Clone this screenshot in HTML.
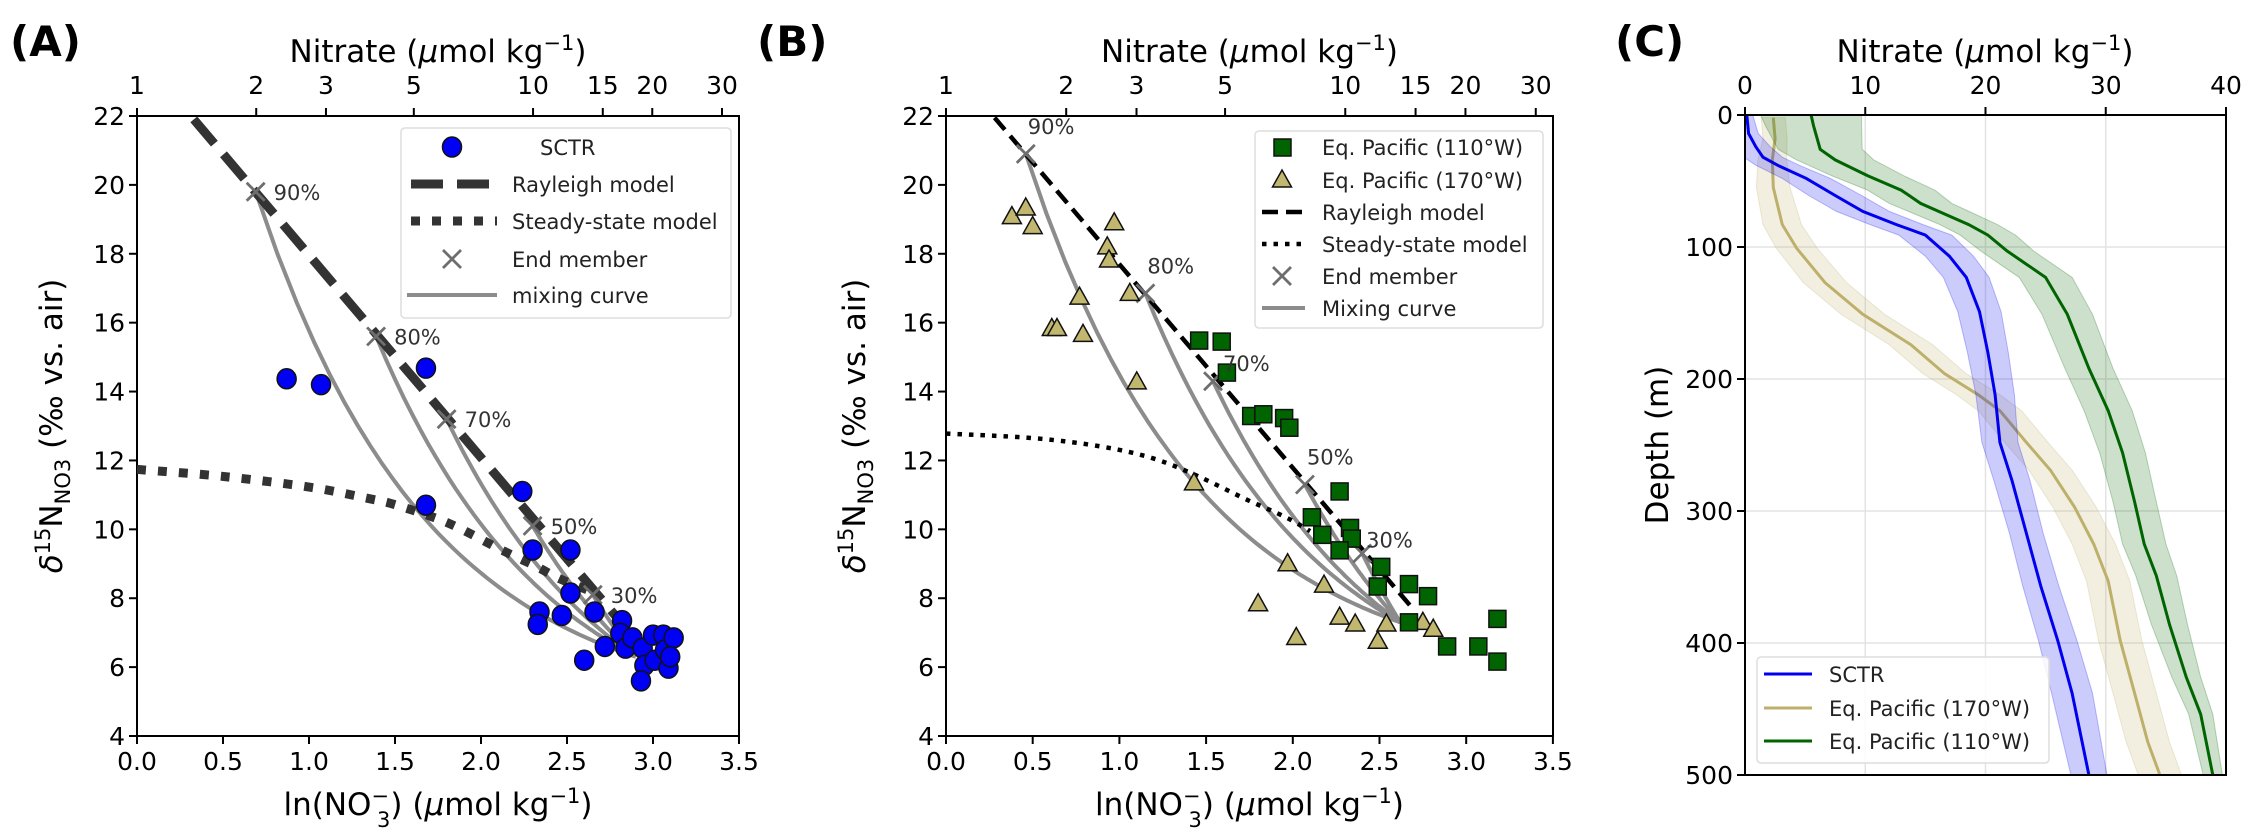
<!DOCTYPE html>
<html><head><meta charset="utf-8">
<style>
html,body{margin:0;padding:0;background:#fff;}
svg{display:block;font-family:"DejaVu Sans","Liberation Sans",sans-serif;}
</style></head>
<body>
<svg id="fig" width="2252" height="836" viewBox="0 0 2252 836" xmlns="http://www.w3.org/2000/svg"></svg>
<script>
// ---------- DATA ----------
const sctrLn = [0.87,1.07,1.68,1.68,2.24,2.30,2.52,2.52,2.34,2.33,2.47,2.66,2.60,2.72,2.82,2.81,2.84,2.88,2.94,2.95,2.93,3.00,3.06,3.01,3.07,3.12,3.09,3.10];
const sctrD15 = [14.37,14.2,14.68,10.7,11.1,9.4,9.4,8.15,7.6,7.24,7.5,7.6,6.2,6.6,7.35,6.98,6.55,6.85,6.55,6.05,5.6,6.93,6.93,6.2,6.5,6.85,5.97,6.3];
const endLabels = ["90%","80%","70%","50%","30%"];
const endALn = [0.69,1.39,1.80,2.30,2.65];
const endAD = [19.8,15.6,13.2,10.1,8.1];
const deepA = [2.9,6.3];
const rayleighALn = [0.33,2.78];
const rayleighAD = [21.9,7.5];
const steadyALn = [0,0.51,1.01,1.34,1.51,1.81,2.12,2.31,2.46,2.64];
const steadyAD = [11.74,11.53,11.22,10.9,10.7,10.18,9.4,8.95,8.56,8.2];
const p110Ln = [1.46,1.59,1.62,1.76,1.83,1.95,1.98,2.27,2.11,2.17,2.33,2.34,2.27,2.51,2.49,2.67,2.78,2.67,2.89,3.07,3.18,3.18];
const p110D = [15.48,15.45,14.55,13.29,13.34,13.23,12.95,11.1,10.35,9.84,10.04,9.73,9.39,8.91,8.34,8.41,8.06,7.3,6.6,6.6,7.4,6.16];
const p170Ln = [0.38,0.46,0.50,0.61,0.64,0.77,0.79,0.97,0.93,0.94,1.06,1.10,1.43,1.80,1.97,2.02,2.18,2.27,2.36,2.49,2.54,2.75,2.81];
const p170D = [19.08,19.33,18.79,15.83,15.83,16.74,15.66,18.9,18.2,17.82,16.85,14.28,11.35,7.84,9.0,6.86,8.38,7.45,7.25,6.75,7.25,7.3,7.1];
const endBLn = [0.46,1.15,1.54,2.07,2.40];
const endBD = [20.9,16.85,14.3,11.3,9.3];
const deepB = [2.62,7.3];
const rayleighBLn = [0.28,2.7];
const rayleighBD = [21.95,7.65];
const steadyBLn = [0,0.5,0.9,1.2,1.45,1.74,1.96,2.1];
const steadyBD = [12.78,12.65,12.4,12.05,11.55,10.85,10.35,9.95];
const sctrN = [0.15,0.3,0.9,1.5,2.7,5.1,7.5,9.8,12.6,15,17,18.4,19.5,20.2,20.8,21.2,22.2,23.4,24.6,26,27.2,28.6];
const sctrZ = [0,14,24,32,38,48,61,73,83,91,107,123,149,180,212,248,277,317,357,398,438,500];
const sctrHW = [0.5,0.8,1.2,1.6,1.8,2.0,2.2,2.2,2.2,2.2,2.0,1.9,1.8,1.7,1.6,1.5,1.5,1.4,1.5,1.6,1.7,1.5];
const w170N = [2.35,2.5,2.27,2.35,3.1,4.3,6.65,9.8,13.8,16.6,19.4,21.2,23.4,25.4,27.4,29,30.2,31.2,32.4,33.5,34.5];
const w170Z = [2,18,34,55,83,101,127,151,174,196,212,224,248,269,297,325,353,398,438,475,500];
const w170HW = [1.0,1.0,1.2,1.4,1.6,1.7,1.8,1.8,1.8,1.8,1.8,1.8,1.8,1.8,1.8,1.8,1.8,1.8,1.8,1.8,1.8];
const w110N = [5.5,5.7,6.25,7.5,10.2,13,14.6,16.6,18.6,20.2,21.8,23.4,25,26.8,28.6,30.2,31.4,32.4,33.2,34.2,35.3,36.7,37.9,38.9];
const w110Z = [0,8,26,34,46,57,67,75,83,91,103,113,123,151,192,224,256,293,325,349,386,426,454,500];
const w110HW = [4.2,4.0,3.5,3.2,3.0,2.8,2.6,2.5,2.4,2.3,2.2,2.2,2.2,2.1,2.0,2.0,1.9,1.8,1.8,1.7,1.5,1.2,1.0,0.8];
const xTicks = [0,0.5,1,1.5,2,2.5,3,3.5];
const yTicks = [4,6,8,10,12,14,16,18,20,22];
const topTicks = [1,2,3,5,10,15,20,30];
const cXTicks = [0,10,20,30,40];
const cYTicks = [0,100,200,300,400,500];

// ---------- HELPERS ----------
const svg = document.getElementById('fig');
const NS = 'http://www.w3.org/2000/svg';
function mk(tag, attrs, parent){
  const e = document.createElementNS(NS, tag);
  for (const k in attrs) e.setAttribute(k, attrs[k]);
  (parent||svg).appendChild(e);
  return e;
}
function txt(str, x, y, size, anchor, parent, extra){
  const t = mk('text', Object.assign({x:x, y:y, 'font-size':size, 'text-anchor':anchor||'middle', fill:'#000'}, extra||{}), parent);
  t.textContent = str;
  return t;
}
const TOP = 116, BOT = 736;
function mkAxes(x0, unit){ return { X: v => x0 + v*unit, Y: v => BOT - (v-4)*(BOT-TOP)/18 }; }
const A = mkAxes(137, 172.0);
const B = mkAxes(946, 173.4);

function scatterPanel(ax, x0, x1, name, yTitleX, labelX, panelLabel){
  const g = mk('g', {});
  
  
  const pl = txt(panelLabel, labelX, 56, 42, 'start', g, {'font-weight':'bold'});
  
  
  const fr = mk('rect', {x:x0, y:TOP, width:x1-x0, height:BOT-TOP, fill:'none', stroke:'#000', 'stroke-width':2}, g);
  
  
  xTicks.forEach(v => {
    const x = ax.X(v);
    mk('line', {x1:x, x2:x, y1:BOT, y2:BOT+8, stroke:'#000', 'stroke-width':2}, g);
    const t = txt(v.toFixed(1), x, 770, 25, 'middle', g);
    
    
  });
  yTicks.forEach(v => {
    const y = ax.Y(v);
    mk('line', {x1:x0-8, x2:x0, y1:y, y2:y, stroke:'#000', 'stroke-width':2}, g);
    const t = txt(String(v), x0-12, y+9, 25, 'end', g);
    
    
  });
  topTicks.forEach(v => {
    const x = ax.X(Math.log(v));
    if (x > x1+2) return;
    mk('line', {x1:x, x2:x, y1:TOP-8, y2:TOP, stroke:'#000', 'stroke-width':2}, g);
    const t = txt(String(v), x, 94, 25, 'middle', g);
    
    
  });
  const cx = (x0+x1)/2;
  const tt = mk('text', {x:cx, y:62, 'font-size':31, 'text-anchor':'middle'}, g);
  tt.innerHTML = 'Nitrate (<tspan font-style="italic">μ</tspan>mol kg<tspan dy="-12" font-size="21">−1</tspan><tspan dy="12">)</tspan>';
  
  
  const xt = mk('text', {x:cx, y:815, 'font-size':31, 'text-anchor':'middle'}, g);
  xt.innerHTML = 'ln(NO<tspan dy="-12" font-size="21">−</tspan><tspan dx="-12" dy="24" font-size="21">3</tspan><tspan dy="-12">) (</tspan><tspan font-style="italic">μ</tspan>mol kg<tspan dy="-12" font-size="21">−1</tspan><tspan dy="12">)</tspan>';
  
  
  const yt = mk('text', {x:0, y:0, 'font-size':31, 'text-anchor':'middle', transform:`translate(${yTitleX},426) rotate(-90)`}, g);
  yt.innerHTML = '<tspan font-style="italic">δ</tspan><tspan dy="-12" font-size="21">15</tspan><tspan dy="12">N</tspan><tspan dy="8" font-size="21">NO3</tspan><tspan dy="-8"> (‰ vs. air)</tspan>';
  
  
  return g;
}
function smoothPath(xs, ys, ax){
  const P = xs.map((v,i)=>[ax.X(v), ax.Y(ys[i])]);
  let d = 'M'+P[0][0].toFixed(1)+','+P[0][1].toFixed(1);
  for (let i=0;i<P.length-1;i++){
    const p0 = P[Math.max(0,i-1)], p1 = P[i], p2 = P[i+1], p3 = P[Math.min(P.length-1,i+2)];
    const c1 = [p1[0]+(p2[0]-p0[0])/6, p1[1]+(p2[1]-p0[1])/6];
    const c2 = [p2[0]-(p3[0]-p1[0])/6, p2[1]-(p3[1]-p1[1])/6];
    d += 'C'+c1[0].toFixed(1)+','+c1[1].toFixed(1)+' '+c2[0].toFixed(1)+','+c2[1].toFixed(1)+' '+p2[0].toFixed(1)+','+p2[1].toFixed(1);
  }
  return d;
}
function mixPath(eLn, eD, deep, ax){
  const N1 = Math.exp(eLn), N2 = Math.exp(deep[0]);
  let d = '';
  for (let k=0;k<=60;k++){
    const f = 1 - k/60;
    const N = f*N1 + (1-f)*N2;
    const dd = (f*N1*eD + (1-f)*N2*deep[1])/N;
    d += (k?'L':'M') + ax.X(Math.log(N)).toFixed(1) + ',' + ax.Y(dd).toFixed(1);
  }
  return d;
}
function cross(x, y, s, parent){
  return mk('path', {d:`M${x-s},${y-s}L${x+s},${y+s}M${x-s},${y+s}L${x+s},${y-s}`, stroke:'#6e6e6e', 'stroke-width':2.8, fill:'none'}, parent);
}

// ---------- PANEL A ----------
const gA = scatterPanel(A, 137, 739, 'panel-a', 62, 10, '(A)');
const clipA = mk('clipPath', {id:'clipA'}); mk('rect', {x:137, y:TOP, width:602, height:BOT-TOP}, clipA);
const gAin = mk('g', {'clip-path':'url(#clipA)'}, gA);
endALn.forEach((v,i)=>{
  const p = mk('path', {d:mixPath(v, endAD[i], deepA, A), stroke:'#8c8c8c', 'stroke-width':4, fill:'none'}, gAin);
  
  
});
const rayA = mk('path', {d:smoothPath(rayleighALn, rayleighAD, A), stroke:'#333', 'stroke-width':9, 'stroke-dasharray':'32 14', fill:'none'}, gAin);


const stA = mk('path', {d:smoothPath(steadyALn, steadyAD, A), stroke:'#333', 'stroke-width':9, 'stroke-dasharray':'9 12', fill:'none'}, gAin);


endALn.forEach((v,i)=>{
  const c = cross(A.X(v), A.Y(endAD[i]), 9, gAin);
  
  
  const t = txt(endLabels[i], A.X(v)+18, A.Y(endAD[i])+8, 21, 'start', gA, {fill:'#333'});
  
  
});
sctrLn.forEach((v,i)=>{
  const c = mk('ellipse', {cx:A.X(v), cy:A.Y(sctrD15[i]), rx:9.5, ry:10, fill:'#0000f5', stroke:'#111', 'stroke-width':1.5}, gAin);
  
  
});
const lgA = mk('g', {}, gA);


mk('rect', {x:401, y:128, width:330, height:190, rx:4, fill:'#fff', 'fill-opacity':0.85, stroke:'#ddd', 'stroke-width':1.5}, lgA);
const lgAy = [147,184,221,259,295];
const lgAtext = ['SCTR','Rayleigh model','Steady-state model','End member','mixing curve'];
mk('ellipse', {cx:452, cy:lgAy[0], rx:9.5, ry:10, fill:'#0000f5', stroke:'#111', 'stroke-width':1.5}, lgA);
mk('line', {x1:411, x2:497, y1:lgAy[1], y2:lgAy[1], stroke:'#333', 'stroke-width':9, 'stroke-dasharray':'32 14'}, lgA);
mk('line', {x1:411, x2:497, y1:lgAy[2], y2:lgAy[2], stroke:'#333', 'stroke-width':9, 'stroke-dasharray':'9 12'}, lgA);
cross(452, lgAy[3], 9, lgA);
mk('line', {x1:407, x2:497, y1:lgAy[4], y2:lgAy[4], stroke:'#8c8c8c', 'stroke-width':4}, lgA);
lgAtext.forEach((s,i)=>{
  const t = txt(s, i===0?540:512, lgAy[i]+8, 21, 'start', lgA, {fill:'#222'});
  
  
});

// ---------- PANEL B ----------
const gB = scatterPanel(B, 946, 1553, 'panel-b', 865, 757, '(B)');
const clipB = mk('clipPath', {id:'clipB'}); mk('rect', {x:946, y:TOP, width:607, height:BOT-TOP}, clipB);
const gBin = mk('g', {'clip-path':'url(#clipB)'}, gB);
endBLn.forEach((v,i)=>{
  const p = mk('path', {d:mixPath(v, endBD[i], deepB, B), stroke:'#8c8c8c', 'stroke-width':4, fill:'none'}, gBin);
  
  
});
const rayB = mk('path', {d:smoothPath(rayleighBLn, rayleighBD, B), stroke:'#000', 'stroke-width':4.5, 'stroke-dasharray':'16 8', fill:'none'}, gBin);


const stB = mk('path', {d:smoothPath(steadyBLn, steadyBD, B), stroke:'#000', 'stroke-width':4.5, 'stroke-dasharray':'4.5 7', fill:'none'}, gBin);


const lblOffB = [[0,-20],[0,-20],[8,-10],[0,-20],[2,-6]];
endBLn.forEach((v,i)=>{
  const c = cross(B.X(v), B.Y(endBD[i]), 9, gBin);
  
  
  const t = txt(endLabels[i], B.X(v)+2+lblOffB[i][0], B.Y(endBD[i])+lblOffB[i][1], 21, 'start', gB, {fill:'#333'});
  
  
});
p170Ln.forEach((v,i)=>{
  const x = B.X(v), y = B.Y(p170D[i]);
  const p = mk('path', {d:`M${x},${y-10}L${x+9.5},${y+7}L${x-9.5},${y+7}Z`, fill:'#c2b76e', stroke:'#111', 'stroke-width':1.5}, gBin);
  
  
});
p110Ln.forEach((v,i)=>{
  const x = B.X(v), y = B.Y(p110D[i]);
  const r = mk('rect', {x:x-8.5, y:y-8.5, width:17, height:17, fill:'#006400', stroke:'#111', 'stroke-width':1.5}, gBin);
  
  
});
const lgB = mk('g', {}, gB);


mk('rect', {x:1255, y:131, width:288, height:197, rx:4, fill:'#fff', 'fill-opacity':0.85, stroke:'#ddd', 'stroke-width':1.5}, lgB);
const lgBy = [147,180,212,244,276,308];
const lgBtext = ['Eq. Pacific (110°W)','Eq. Pacific (170°W)','Rayleigh model','Steady-state model','End member','Mixing curve'];
mk('rect', {x:1274, y:lgBy[0]-8, width:17, height:17, fill:'#006400', stroke:'#111', 'stroke-width':1.5}, lgB);
mk('path', {d:`M1282,${lgBy[1]-10}L1291.5,${lgBy[1]+7}L1272.5,${lgBy[1]+7}Z`, fill:'#c2b76e', stroke:'#111', 'stroke-width':1.5}, lgB);
mk('line', {x1:1262, x2:1305, y1:lgBy[2], y2:lgBy[2], stroke:'#000', 'stroke-width':4.5, 'stroke-dasharray':'16 8'}, lgB);
mk('line', {x1:1262, x2:1305, y1:lgBy[3], y2:lgBy[3], stroke:'#000', 'stroke-width':4.5, 'stroke-dasharray':'4.5 7'}, lgB);
cross(1282, lgBy[4], 9, lgB);
mk('line', {x1:1262, x2:1305, y1:lgBy[5], y2:lgBy[5], stroke:'#8c8c8c', 'stroke-width':4}, lgB);
lgBtext.forEach((s,i)=>{
  const t = txt(s, 1322, lgBy[i]+8, 21, 'start', lgB, {fill:'#222'});
  
  
});

// ---------- PANEL C ----------
const CX0 = 1745, CX1 = 2226, CY0 = 115, CY1 = 775;
const CX = v => CX0 + v*(CX1-CX0)/40;
const CY = v => CY0 + v*(CY1-CY0)/500;
const gC = mk('g', {});


const plC = txt('(C)', 1615, 56, 42, 'start', gC, {'font-weight':'bold'});


cXTicks.forEach(v => { if(v>0 && v<40) mk('line', {x1:CX(v), x2:CX(v), y1:CY0, y2:CY1, stroke:'#e3e3e3', 'stroke-width':1.5}, gC); });
cYTicks.forEach(v => { if(v>0 && v<500) mk('line', {x1:CX0, x2:CX1, y1:CY(v), y2:CY(v), stroke:'#e3e3e3', 'stroke-width':1.5}, gC); });
const clipC = mk('clipPath', {id:'clipC'}); mk('rect', {x:CX0, y:CY0, width:CX1-CX0, height:CY1-CY0}, clipC);
const gCin = mk('g', {'clip-path':'url(#clipC)'}, gC);
function profile(N, Z, HW, color, name){
  const left = N.map((v,i)=>(i?'L':'M')+CX(v-HW[i]).toFixed(1)+','+CY(Z[i]).toFixed(1)).join(' ');
  let right = '';
  for (let i=N.length-1;i>=0;i--) right += 'L'+CX(N[i]+HW[i]).toFixed(1)+','+CY(Z[i]).toFixed(1);
  const band = mk('path', {d:left+right+'Z', fill:color, 'fill-opacity':0.2, stroke:color, 'stroke-opacity':0.25, 'stroke-width':1}, gCin);
  
  
  const ln = mk('path', {d:N.map((v,i)=>(i?'L':'M')+CX(v).toFixed(1)+','+CY(Z[i]).toFixed(1)).join(' '), stroke:color, 'stroke-width':3, fill:'none'}, gCin);
  
  
}
profile(w170N, w170Z, w170HW, '#bdb06b', 'eq-pacific-170w');
profile(w110N, w110Z, w110HW, '#006400', 'eq-pacific-110w');
profile(sctrN, sctrZ, sctrHW, '#0000ee', 'sctr');
mk('rect', {x:CX0, y:CY0, width:CX1-CX0, height:CY1-CY0, fill:'none', stroke:'#000', 'stroke-width':2}, gC);
cXTicks.forEach(v => {
  mk('line', {x1:CX(v), x2:CX(v), y1:CY0-8, y2:CY0, stroke:'#000', 'stroke-width':2}, gC);
  const t = txt(String(v), CX(v), 94, 25, 'middle', gC);
  
  
});
cYTicks.forEach(v => {
  mk('line', {x1:CX0-8, x2:CX0, y1:CY(v), y2:CY(v), stroke:'#000', 'stroke-width':2}, gC);
  const t = txt(String(v), CX0-12, CY(v)+9, 25, 'end', gC);
  
  
});
const ctt = mk('text', {x:1985, y:62, 'font-size':31, 'text-anchor':'middle'}, gC);
ctt.innerHTML = 'Nitrate (<tspan font-style="italic">μ</tspan>mol kg<tspan dy="-12" font-size="21">−1</tspan><tspan dy="12">)</tspan>';


const cyt = txt('Depth (m)', 0, 0, 31, 'middle', gC, {transform:'translate(1668,445) rotate(-90)'});


const lgC = mk('g', {}, gC);


mk('rect', {x:1757, y:657, width:292, height:106, rx:4, fill:'#fff', 'fill-opacity':0.85, stroke:'#ddd', 'stroke-width':1.5}, lgC);
const lgCy = [674,708,741];
const lgCc = ['#0000ee','#bdb06b','#006400'];
const lgCt = ['SCTR','Eq. Pacific (170°W)','Eq. Pacific (110°W)'];
lgCt.forEach((s,i)=>{
  mk('line', {x1:1764, x2:1812, y1:lgCy[i], y2:lgCy[i], stroke:lgCc[i], 'stroke-width':3}, lgC);
  const t = txt(s, 1829, lgCy[i]+8, 21, 'start', lgC, {fill:'#222'});
  
  
});
</script>
</body></html>
